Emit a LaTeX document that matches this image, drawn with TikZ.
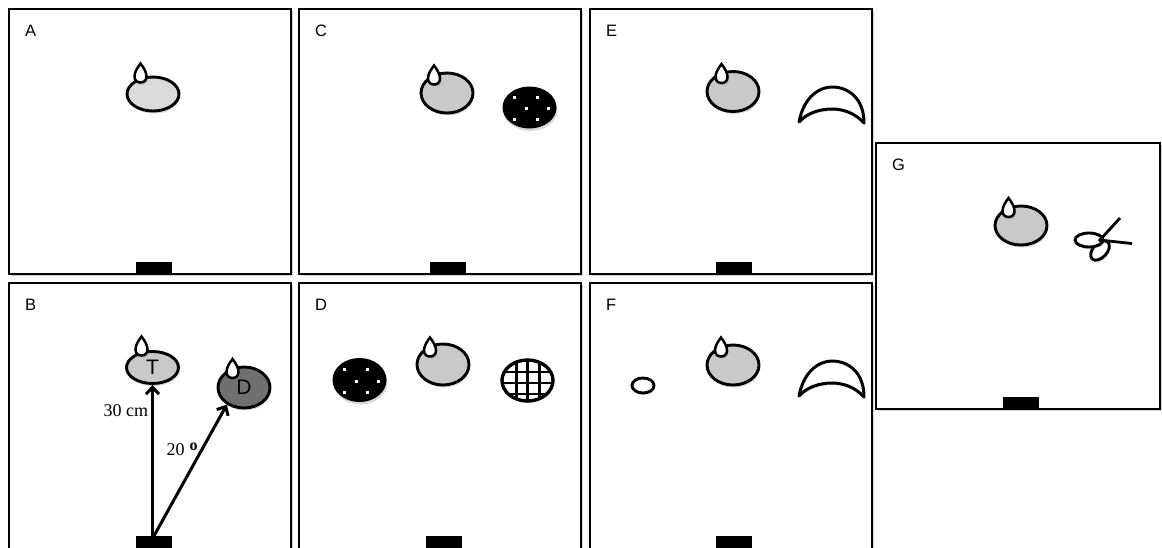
\documentclass[tikz,border=0pt]{standalone}
\usepackage{fontspec}
\setmainfont{Liberation Serif}
\setsansfont{Liberation Sans}
\usetikzlibrary{shapes.geometric,arrows.meta,shadows}

\begin{document}
\begin{tikzpicture}[x=1pt, y=-1pt, >={Straight Barb[length=7pt,width=13pt]},
	panel/.style={draw=black, line width=2.6pt, fill=white,
		drop shadow={shadow xshift=1.5pt, shadow yshift=-1.5pt, opacity=.35}},
	target/.style={ellipse, draw=black, line width=2.9pt, fill=black!21,
		minimum width=52pt, minimum height=40pt, inner sep=0pt,
		font=\sffamily\fontsize{21}{21}\selectfont,
		drop shadow={shadow xshift=1pt, shadow yshift=-2.5pt, opacity=.3}},
	dotted disc/.style={ellipse, fill=black, minimum width=54pt, minimum height=42pt, inner sep=0pt,
		drop shadow={shadow xshift=1pt, shadow yshift=-2.5pt, opacity=.3}},
	plain disc/.style={ellipse, draw=black, line width=2.9pt, fill=white, inner sep=0pt,
		drop shadow={shadow xshift=1pt, shadow yshift=-2pt, opacity=.3}},
	base/.style={fill=black, minimum width=36pt, minimum height=12pt, inner sep=0pt},
	lbl/.style={anchor=north west, inner sep=0pt, font=\sffamily\fontsize{16.5}{16.5}\selectfont},
	txt/.style={inner sep=0pt, font=\fontsize{18}{18}\selectfont},
	arr/.style={->, line width=3pt},
	drop/.pic={\draw[line width=2.5pt, fill=white,
			drop shadow={shadow xshift=1.5pt, shadow yshift=-2pt, opacity=.35}]
		(0,-9.5) .. controls (3,-5.5) and (6,-1) .. (6,3.5) .. controls (6,7.5) and (3.2,9.5) .. (0,9.5)
		.. controls (-3.2,9.5) and (-6,7.5) .. (-6,3.5) .. controls (-6,-1) and (-3,-5.5) .. (0,-9.5) -- cycle;},
	moon/.pic={\draw[line width=3pt, fill=white, line join=round,
			drop shadow={shadow xshift=1pt, shadow yshift=-2pt, opacity=.3}]
		(-33,17) .. controls (-28,-9) and (-12,-18) .. (0,-18) .. controls (16,-18) and (32,-7) .. (32,18)
		.. controls (23,8) and (11,4) .. (0,4) .. controls (-14,4) and (-26,9) .. (-33,17) -- cycle;}]

	% 1. Page size (the lower row runs off the bottom)
	\path[use as bounding box] (0,0) rectangle (1162,547);
	\clip (0,0) rectangle (1162,547);

	% 2. The seven panels
	\draw[panel] (9,9) rectangle (291,274);       % A
	\draw[panel] (299,9) rectangle (581,274);     % C
	\draw[panel] (590,9) rectangle (872,274);     % E
	\draw[panel] (9,283) rectangle (291,549);     % B
	\draw[panel] (299,283) rectangle (581,549);   % D
	\draw[panel] (590,283) rectangle (872,549);   % F
	\draw[panel] (876,143) rectangle (1160,409);  % G

	% 3. Panel letters
	\node[lbl] (lA) at (25,25) {A};
	\node[lbl] (lC) at (315,25) {C};
	\node[lbl] (lE) at (606,25) {E};
	\node[lbl] (lB) at (25,299) {B};
	\node[lbl] (lD) at (315,299) {D};
	\node[lbl] (lF) at (606,299) {F};
	\node[lbl] (lG) at (892,159) {G};

	% 4. Start boxes
	\node[base] (bA) at (154,268) {};
	\node[base] (bC) at (448,268) {};
	\node[base] (bE) at (734,268) {};
	\node[base] (bB) at (154,542) {};
	\node[base] (bD) at (444,542) {};
	\node[base] (bF) at (734,542) {};
	\node[base] (bG) at (1021,403) {};

	% 5. Targets with their drops
	\node[target, fill=black!14, minimum height=34pt] (tA) at (153,94) {};
	\node[target] (tC) at (447,93) {};
	\node[target] (tE) at (733,91.5) {};
	\node[target, minimum height=39pt] (tG) at (1021,225.5) {};
	\node[target, minimum height=32pt] (tT) at (152.5,367.5) {T};
	\node[target, fill=black!56, minimum height=41pt] (tDk) at (244,387.5) {D};
	\node[target, minimum height=41pt] (tD) at (443,364.5) {};
	\node[target] (tF) at (733,365) {};
	\foreach \t/\dx/\dy in {tA/-12.5/-21, tC/-13/-18, tE/-11.5/-18, tG/-12.5/-18,
		tT/-11/-21.5, tDk/-11.5/-19, tD/-13/-17.5, tF/-12/-18}
		\pic at ([shift={(\dx,\dy)}]\t.center) {drop};

	% 6. Black discs with white dots (C and D)
	\node[dotted disc] (dC) at (529.5,107.5) {};
	\node[dotted disc, minimum height=44pt] (dD) at (359.5,380) {};
	\foreach \d in {dC,dD}
		\foreach \dx/\dy in {-15/-10.4, 7.7/-10.4, -3.3/1.2, 19.3/1.2, -15/12.2, 7.7/12.2}
			\fill[white] ([shift={(\dx-1.6,\dy-1.6)}]\d.center) rectangle +(3.2,3.2);

	% 7. Checked disc (D)
	\node[plain disc, minimum width=51pt, minimum height=41pt] (grD) at (527.5,380.5) {};
	\begin{scope}
		\clip (grD.center) ellipse [x radius=25.5pt, y radius=20.5pt];
		\foreach \gx in {-11,0,12}
			\draw[line width=2.5pt] ([shift={(\gx,0)}]grD.north) -- ([shift={(\gx,0)}]grD.south);
		\foreach \gy in {-8.5,2.5,13.5}
			\draw[line width=2.5pt] ([shift={(0,\gy)}]grD.west) -- ([shift={(0,\gy)}]grD.east);
	\end{scope}
	\draw[line width=3.2pt] (grD.center) ellipse [x radius=25.5pt, y radius=20.5pt];

	% 8. Crescents (E and F) and small disc (F)
	\pic at (832,105) {moon};
	\pic at (832,379) {moon};
	\node[plain disc, minimum width=22pt, minimum height=15pt] (sF) at (643,385.5) {};

	% 9. Two-leaf object (G)
	\node[plain disc, minimum width=23pt, minimum height=14pt, rotate=47] (pB) at (1100,250.5) {};
	\node[plain disc, minimum width=28pt, minimum height=14pt] (pA) at (1089,240) {};
	\draw[line width=2.8pt] (1099,241) -- (1120,218);
	\draw[line width=2.8pt] (1099,240) -- (1132,243.5);

	% 10. Distances and angle in B
	\draw[arr] (tT.south |- bB.north) -- node[txt, pos=.83, left=3pt] (l30) {30 cm} (tT.south);
	\draw[arr] (bB.north) -- node[txt, pos=.66, left=3pt] (l20)
		{20\hspace{5pt}\raisebox{5pt}{\fontsize{16}{16}\selectfont\bfseries o}} (tDk.225);
\end{tikzpicture}
\end{document}
